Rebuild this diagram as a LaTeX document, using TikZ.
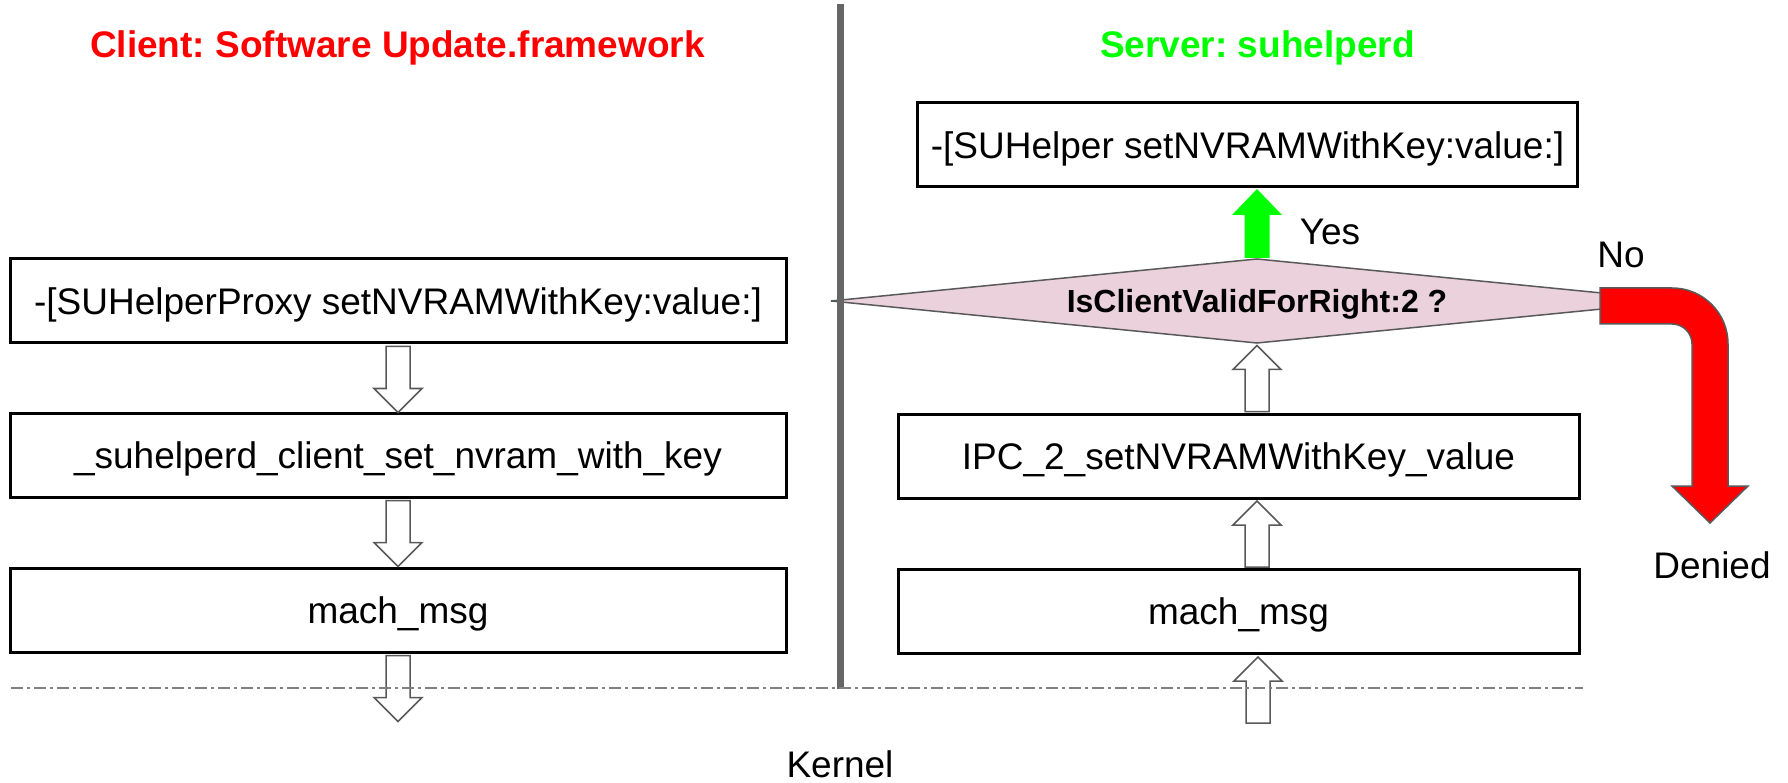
\documentclass[tikz,border=0pt]{standalone}
\usepackage{fontspec}
\setmainfont{Liberation Sans}
\usetikzlibrary{calc}
\frenchspacing
\definecolor{outl}{HTML}{595959}
\definecolor{divg}{HTML}{666666}
\definecolor{dashg}{HTML}{808080}
\definecolor{pinkf}{HTML}{EAD1DC}
\definecolor{redA}{HTML}{FF0000}
\definecolor{greenA}{HTML}{00FF00}
\tikzset{
  blk/.style={draw=outl, line width=1.5pt, fill=white, line join=miter},
  downarr/.pic={\path[blk] (-12,0) -- (12,0) -- (12,42) -- (24,42) -- (0,66) -- (-24,42) -- (-12,42) -- cycle;},
  greenarr/.pic={\fill[greenA] (-12.5,0) -- (12.5,0) -- (12.5,43) -- (25,43) -- (0,69) -- (-25,43) -- (-12.5,43) -- cycle;},
}
\begin{document}
\begin{tikzpicture}[x=1pt,y=-1pt,
  box/.style={draw=black, line width=3pt, fill=white, inner sep=0pt, minimum height=84pt, font=\fontsize{37}{44}\selectfont, text height=26.5pt, text depth=0pt},
  lbox/.style={box, minimum width=776pt},
  rbox/.style={box, minimum width=681pt},
  lbl/.style={font=\fontsize{37}{44}\selectfont, inner sep=0pt, anchor=base},
  ttl/.style={font=\fontsize{37}{44}\selectfont\bfseries, inner sep=0pt, anchor=base},
]
\useasboundingbox (0,0) rectangle (1788,783);
\fill[white] (0,0) rectangle (1788,783);

% decision diamond
\coordinate (dl) at (831,301);
\coordinate (dt) at (1257,259);
\coordinate (dr) at (1683,301);
\coordinate (db) at (1257,343);
\draw[fill=pinkf, draw=outl, line width=1.5pt] (dl) -- (dt) -- (dr) -- (db) -- cycle;
\node[font=\fontsize{32}{38}\selectfont\bfseries, inner sep=0pt, text height=23pt, text depth=0pt] (dq) at (1257,301) {IsClientValidForRight:2 ?};

% red "No" bent arrow
\draw[fill=redA, draw=outl, line width=1.5pt, line join=miter] (1600,288) -- (1672,288) .. controls (1703,288) and (1728,313) .. (1728,344) -- (1728,486) -- (1748,486) -- (1710,523) -- (1672,486) -- (1692,486) -- (1692,344) .. controls (1692,333) and (1683,324) .. (1672,324) -- (1600,324) -- cycle;

% boxes
\node[lbox] (b1) at (398,301) {-[SUHelperProxy setNVRAMWithKey:value:]};
\node[lbox] (b2) at (398,455) {\_suhelperd\_client\_set\_nvram\_with\_key};
\node[lbox] (b3) at (398,610) {mach\_msg};
\node[box, minimum width=660pt] (r1) at (1247.5,145) {-[SUHelper setNVRAMWithKey:value:]};
\node[rbox] (r2) at (1238.5,456) {IPC\_2\_setNVRAMWithKey\_value};
\node[rbox] (r3) at (1238.5,611.5) {mach\_msg};

% block arrows
\path (b1.south) ++(0,2) pic {downarr};
\path (b2.south) ++(0,2) pic {downarr};
\path (b3.south) ++(0,2) pic {downarr};
\path (r2.north -| dq) ++(0,-1) pic[rotate=180] {downarr};
\path (r3.north -| dq) ++(0,-1) pic[rotate=180] {downarr};
\coordinate (kr) at (1258,723);
\path (kr) pic[rotate=180] {downarr};
\path (dt) ++(0,-1) pic[rotate=180] {greenarr};

% divider and kernel boundary
\draw[divg, line width=6.5pt] (840.5,4) -- (840.5,689);
\draw[dashg, line width=1.5pt, dash pattern=on 12pt off 4pt on 3pt off 4pt] (11,688) -- (1583,688);

% labels
\node[ttl, text=redA] (ct) at (397.5,58) {Client: Software Update.framework};
\node[ttl, text=greenA] (st) at (1257.5,58) {Server: suhelperd};
\node[lbl] (yes) at (1330,245) {Yes};
\node[lbl] (no) at (1621,268) {No};
\node[lbl] (den) at (1712,578) {Denied};
\node[lbl] (ker) at (840,777) {Kernel};
\end{tikzpicture}
\end{document}
